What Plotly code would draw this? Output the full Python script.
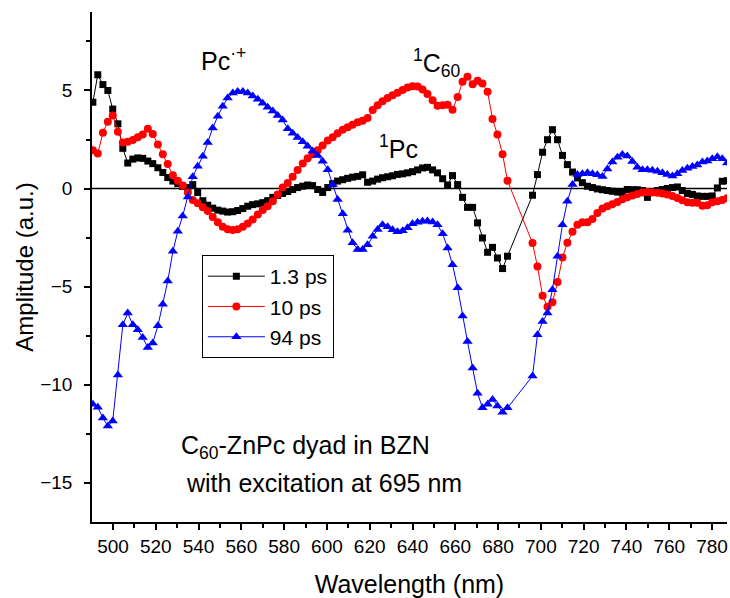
import plotly.graph_objects as go

wavelength = [490.6, 492.9, 495.3, 497.6, 499.9, 502.3, 504.6, 506.9, 509.3, 511.6,
              513.9, 516.3, 518.6, 521.0, 523.3, 525.6, 528.0, 530.3, 532.6, 535.0,
              537.3, 539.6, 542.0, 544.3, 546.6, 549.0, 551.3, 553.6, 556.0, 558.3,
              560.7, 563.0, 565.3, 567.7, 570.0, 572.3, 574.7, 577.0, 579.3, 581.7,
              584.0, 586.3, 588.7, 591.0, 593.3, 595.7, 598.0, 600.4, 602.7, 605.0,
              607.4, 609.7, 612.0, 614.4, 616.7, 619.0, 621.4, 623.7, 626.0, 628.4,
              630.7, 633.0, 635.4, 637.7, 640.0, 642.4, 644.7, 647.0, 649.4, 651.7,
              654.1, 656.4, 658.7, 661.1, 663.4, 665.7, 668.1, 670.4, 672.7, 675.1,
              677.4, 679.7, 682.1, 684.4,
              696.1, 698.4, 700.8, 703.1, 705.4, 707.8, 710.1, 712.4, 714.8, 717.1,
              719.4, 721.8, 724.1, 726.4, 728.8, 731.1, 733.4, 735.8, 738.1, 740.4,
              742.8, 745.1, 747.5, 749.8, 752.1, 754.5, 756.8, 759.1, 761.5, 763.8,
              766.1, 768.5, 770.8, 773.1, 775.5, 777.8, 780.1, 782.5, 784.8, 787.1]

amp_1_3ps = [4.4, 5.8, 5.3, 5.0, 4.05, 3.3, 2.05, 1.3, 1.5, 1.56,
             1.54, 1.4, 1.27, 1.06, 0.82, 0.56, 0.38, 0.25, 0.11, 0.05,
             0.2, -0.2, -0.62, -0.85, -1.0, -1.1, -1.15, -1.2, -1.18, -1.12,
             -1.02, -0.9, -0.82, -0.78, -0.72, -0.62, -0.45, -0.35, -0.25, -0.15,
             -0.05, 0.05, 0.12, 0.18, 0.15, -0.05, -0.2, 0.05, 0.25, 0.38,
             0.45, 0.52, 0.58, 0.62, 0.7, 0.32, 0.38, 0.48, 0.55, 0.6,
             0.65, 0.72, 0.75, 0.8, 0.86, 0.95, 1.05, 1.08, 0.95, 0.8,
             0.5, 0.18, 0.66, 0.2, -0.45, -0.96, -0.96, -1.75, -2.52, -3.25,
             -3.0, -3.54, -4.08, -3.45,
             -0.34, 0.71, 1.85, 2.49, 3.0, 2.49, 1.69, 1.22, 0.84, 0.54,
             0.3, 0.12, 0.05, -0.02, -0.06, -0.1, -0.14, -0.18, -0.2, -0.05,
             -0.06, -0.06, -0.1, -0.45, -0.15, -0.1, -0.05, 0.0, 0.05, 0.08,
             -0.1, -0.25, -0.3, -0.38, -0.4, -0.4, -0.38, 0.03, 0.37, 0.4]

amp_10ps = [1.95, 1.78, 2.85, 3.4, 3.72, 2.9, 2.35, 2.38, 2.48, 2.62,
            2.75, 3.05, 2.78, 2.25, 1.75, 1.25, 0.68, 0.4, 0.15, -0.2,
            -0.58, -0.75, -0.95, -1.15, -1.45, -1.72, -1.95, -2.08, -2.12, -2.08,
            -1.95, -1.78, -1.58, -1.32, -1.1, -0.9, -0.65, -0.3, 0.05, 0.28,
            0.6, 0.95, 1.28, 1.55, 1.75, 1.95, 2.2, 2.45, 2.62, 2.82,
            3.0, 3.12, 3.25, 3.38, 3.45, 3.6, 4.0, 4.25, 4.45, 4.62,
            4.75, 4.88, 5.02, 5.15, 5.22, 5.2, 5.05, 4.82, 4.5, 4.22,
            4.25, 4.27, 4.02, 4.67, 5.45, 5.7, 5.32, 5.5, 5.35, 4.93,
            3.55, 2.75, 1.75, 0.4,
            -2.78, -3.98, -5.46, -6.03, -5.8, -4.77, -3.52, -2.76, -2.2, -1.84,
            -1.72, -1.72, -1.55, -1.25, -1.02, -0.9, -0.8, -0.68, -0.55, -0.45,
            -0.35, -0.28, -0.2, -0.18, -0.2, -0.22, -0.25, -0.3, -0.38, -0.48,
            -0.6, -0.7, -0.72, -0.73, -0.88, -0.85, -0.7, -0.65, -0.58, -0.5]

amp_94ps = [-11.0, -11.15, -11.7, -12.1, -11.85, -9.5, -6.95, -6.35, -6.95, -7.2,
            -7.6, -8.1, -7.87, -7.0, -5.9, -4.72, -3.2, -2.18, -1.4, -0.43,
            0.6, 1.13, 1.64, 2.35, 3.08, 3.68, 4.19, 4.61, 4.87, 4.95,
            4.95, 4.87, 4.72, 4.55, 4.35, 4.15, 3.95, 3.72, 3.5, 3.05,
            2.82, 2.6, 2.38, 2.15, 1.92, 1.68, 1.39, 0.96, 0.2, -0.56,
            -1.28, -2.13, -2.77, -3.11, -3.11, -2.86, -2.43, -2.09, -1.84, -1.95,
            -2.1, -2.2, -2.15, -2.0, -1.8, -1.72, -1.67, -1.65, -1.7, -1.84,
            -2.31, -3.03, -3.88, -5.06, -6.5, -7.8, -9.15, -10.43, -11.18, -11.0,
            -10.75, -11.09, -11.4, -11.18,
            -9.56, -7.46, -6.78, -6.35, -5.16, -3.45, -1.84, -0.65, 0.2, 0.71,
            0.75, 0.8, 0.75, 0.7, 0.62, 1.0, 1.35, 1.6, 1.73, 1.66,
            1.38, 1.08, 0.96, 0.96, 0.93, 0.88, 0.8, 0.72, 0.64, 0.75,
            0.92, 1.03, 1.12, 1.2, 1.35, 1.4, 1.52, 1.62, 1.52, 1.3]

series_names = ["1.3 ps", "10 ps", "94 ps"]
series_values = [amp_1_3ps, amp_10ps, amp_94ps]
series_colors = ["#000000", "#FF0000", "#0000FF"]
series_symbols = ["square", "circle", "triangle-up"]
series_sizes = [7, 8, 9]

x_ticks = list(range(500, 781, 20))
y_ticks = [-15, -10, -5, 0, 5]

FONT = "Liberation Sans, Arial, sans-serif"

fig = go.Figure()
for name, vals, col, sym, sz in zip(series_names, series_values, series_colors,
                                   series_symbols, series_sizes):
    fig.add_trace(go.Scatter(
        x=wavelength, y=vals, mode="lines+markers", name=name,
        line=dict(color=col, width=1),
        marker=dict(symbol=sym, size=sz, color=col, line=dict(width=0)),
    ))

fig.add_shape(type="line", xref="paper", yref="y", x0=0, x1=1, y0=0, y1=0,
              line=dict(color="black", width=1.6), layer="below")

axis_common = dict(
    showline=True, linecolor="black", linewidth=1.6, mirror=False,
    ticks="outside", ticklen=6, tickwidth=1.5, tickcolor="black",
    showgrid=False, zeroline=False,
    tickfont=dict(family=FONT, size=19, color="black"),
)

fig.update_xaxes(
    range=[490.2, 787.0], tickvals=x_ticks,
    minor=dict(dtick=10, tick0=490, ticks="outside", ticklen=4, tickwidth=1.5, tickcolor="black"),
    title=dict(text="Wavelength (nm)", font=dict(family=FONT, size=25, color="black"), standoff=20),
    **axis_common,
)
fig.update_yaxes(
    range=[-17, 9], tickvals=y_ticks,
    minor=dict(dtick=2.5, tick0=0, ticks="outside", ticklen=4, tickwidth=1.5, tickcolor="black"),
    title=dict(text="Amplitude (a.u.)", font=dict(family=FONT, size=24, color="black"), standoff=0),
    ticklabelstandoff=8,
    **axis_common,
)

ann_font = dict(family=FONT, size=25, color="black")
annotations = [
    dict(x=540.3, y=6.6, text="Pc<sup>·+</sup>", xanchor="left", yanchor="middle"),
    dict(x=639.5, y=6.4, text="<sup>1</sup>C<sub>60</sub>", xanchor="left", yanchor="middle"),
    dict(x=623.2, y=2.1, text="<sup>1</sup>Pc", xanchor="left", yanchor="middle"),
    dict(x=530.8, y=-13.2, text="C<sub>60</sub>-ZnPc dyad in BZN", xanchor="left", yanchor="middle"),
    dict(x=533.4, y=-15.0, text="with excitation at 695 nm", xanchor="left", yanchor="middle"),
]
for a in annotations:
    fig.add_annotation(xref="x", yref="y", showarrow=False, font=ann_font, **a)

fig.update_layout(
    width=730, height=598,
    margin=dict(l=92, r=3, t=12, b=76),
    paper_bgcolor="white", plot_bgcolor="white",
    font=dict(family=FONT, color="black"),
    legend=dict(
        x=0.173, y=0.5235, xanchor="left", yanchor="top",
        bordercolor="black", borderwidth=1, bgcolor="white",
        font=dict(family=FONT, size=21, color="black"),
        itemwidth=57, tracegroupgap=0,
    ),
)

fig.write_html("out.html")
